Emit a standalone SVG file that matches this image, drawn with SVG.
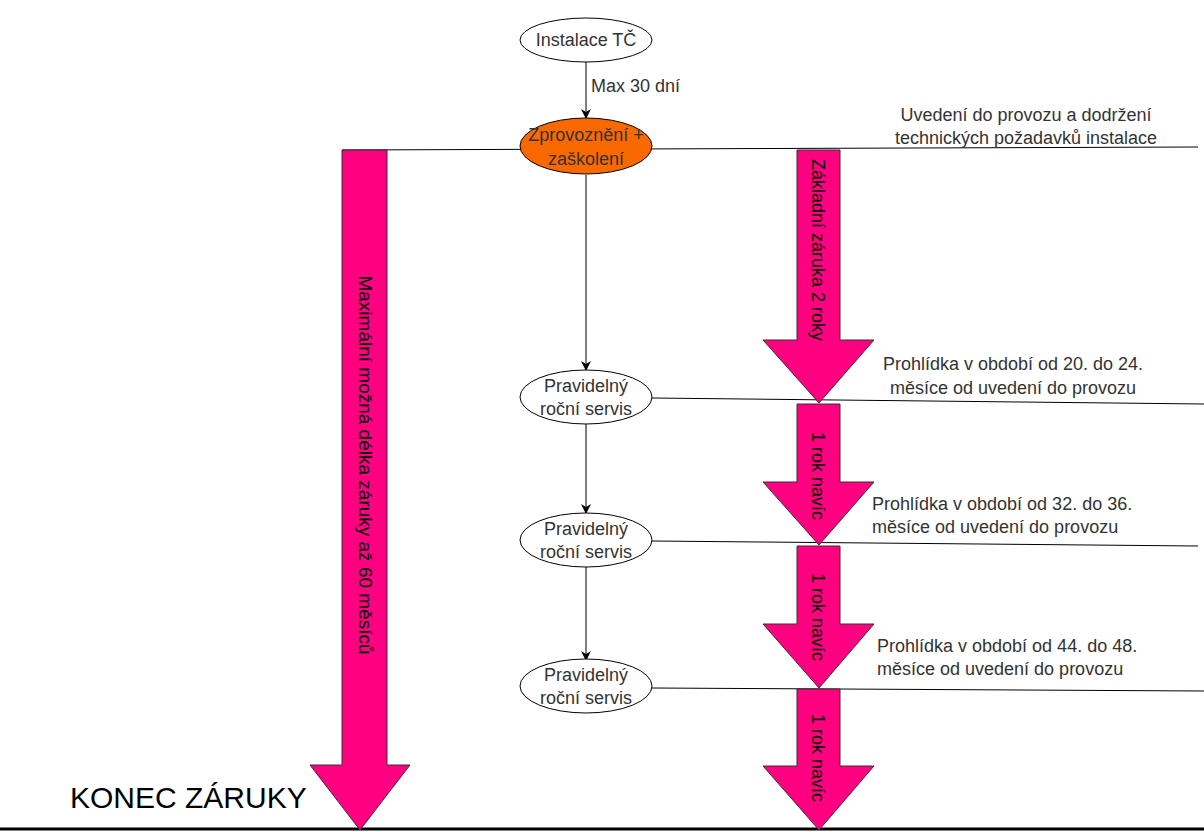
<svg xmlns="http://www.w3.org/2000/svg" width="1204" height="832" viewBox="0 0 1204 832">
<defs>
<style>
.t{font-family:"Liberation Sans",Arial,sans-serif;font-size:18px;fill:#333;}
.tb{font-family:"Liberation Sans",Arial,sans-serif;font-size:18px;fill:#000;}
.node{stroke:#000;stroke-width:1;}
.pink{fill:#FF0080;stroke:#333;stroke-width:1;}
.ln{stroke:#000;stroke-width:1;fill:none;}
</style>
<marker id="ah" markerWidth="10" markerHeight="10" refX="9" refY="5" orient="auto" markerUnits="userSpaceOnUse">
<path d="M0,0 L10,5 L0,10 L3,5 Z" fill="#000"/>
</marker>
</defs>
<rect width="1204" height="832" fill="#fff"/>

<g id="timelines">
<line class="ln" x1="342" y1="150" x2="1198" y2="147"/>
<line class="ln" x1="652" y1="398" x2="1204" y2="404"/>
<line class="ln" x1="652" y1="541" x2="1198" y2="546"/>
<line class="ln" x1="652" y1="688" x2="1204" y2="691"/>
<line x1="0" y1="829" x2="1204" y2="829" stroke="#000" stroke-width="3"/>
</g>

<g id="big-arrow">
<path class="pink" d="M342,150 H387 V765 H410 L360,830 L310,765 H342 Z"/>
<text class="tb" transform="translate(359,465) rotate(90)" text-anchor="middle" style="font-size:19px">Maximální možná délka záruky až 60 měsíců</text>
</g>

<g id="arrow-2roky">
<path class="pink" d="M797,150 H840 V340 H874 L819,403 L763,340 H797 Z"/>
<text class="tb" transform="translate(812,250) rotate(90)" text-anchor="middle">Základní záruka 2 roky</text>
</g>
<g id="arrow-rok1">
<path class="pink" d="M797,404 H840 V482 H874 L819,545 L763,482 H797 Z"/>
<text class="tb" transform="translate(812,476) rotate(90)" text-anchor="middle">1 rok navíc</text>
</g>
<g id="arrow-rok2">
<path class="pink" d="M797,546 H840 V624 H874 L819,688 L763,624 H797 Z"/>
<text class="tb" transform="translate(812,617) rotate(90)" text-anchor="middle">1 rok navíc</text>
</g>
<g id="arrow-rok3">
<path class="pink" d="M797,689 H840 V766 H874 L819,830 L763,766 H797 Z"/>
<text class="tb" transform="translate(812,758) rotate(90)" text-anchor="middle">1 rok navíc</text>
</g>

<g id="connectors">
<line class="ln" x1="586" y1="62" x2="586" y2="118" marker-end="url(#ah)"/>
<line class="ln" x1="586" y1="175" x2="586" y2="370" marker-end="url(#ah)"/>
<line class="ln" x1="586" y1="424" x2="586" y2="513" marker-end="url(#ah)"/>
<line class="ln" x1="586" y1="567" x2="586" y2="660" marker-end="url(#ah)"/>
<text class="t" x="591" y="92">Max 30 dní</text>
</g>

<g id="instalace">
<ellipse class="node" cx="586" cy="40" rx="66" ry="22" fill="#fff"/>
<text class="t" x="586" y="46" text-anchor="middle">Instalace TČ</text>
</g>
<g id="zprovozneni">
<ellipse class="node" cx="586" cy="146" rx="66" ry="28" fill="#FA6800"/>
<text class="t" x="586" y="141" text-anchor="middle">Zprovoznění +</text>
<text class="t" x="586" y="165" text-anchor="middle">zaškolení</text>
</g>
<g id="servis1">
<ellipse class="node" cx="586" cy="397" rx="66" ry="27" fill="#fff"/>
<text class="t" x="586" y="392" text-anchor="middle">Pravidelný</text>
<text class="t" x="586" y="415" text-anchor="middle">roční servis</text>
</g>
<g id="servis2">
<ellipse class="node" cx="586" cy="540" rx="66" ry="27" fill="#fff"/>
<text class="t" x="586" y="535" text-anchor="middle">Pravidelný</text>
<text class="t" x="586" y="558" text-anchor="middle">roční servis</text>
</g>
<g id="servis3">
<ellipse class="node" cx="586" cy="686" rx="66" ry="27" fill="#fff"/>
<text class="t" x="586" y="681" text-anchor="middle">Pravidelný</text>
<text class="t" x="586" y="704" text-anchor="middle">roční servis</text>
</g>

<g id="labels">
<text class="t" x="1026" y="121" text-anchor="middle">Uvedení do provozu a dodržení</text>
<text class="t" x="1026" y="144" text-anchor="middle">technických požadavků instalace</text>
<text class="t" x="1013" y="370" text-anchor="middle">Prohlídka v období od 20. do 24.</text>
<text class="t" x="1013" y="394" text-anchor="middle">měsíce od uvedení do provozu</text>
<text class="t" x="872" y="510">Prohlídka v období od 32. do 36.</text>
<text class="t" x="872" y="533">měsíce od uvedení do provozu</text>
<text class="t" x="877" y="652">Prohlídka v období od 44. do 48.</text>
<text class="t" x="877" y="675">měsíce od uvedení do provozu</text>
<text x="70" y="808" style="font-family:'Liberation Sans',Arial,sans-serif;font-size:30px;fill:#000;">KONEC ZÁRUKY</text>
</g>
</svg>
